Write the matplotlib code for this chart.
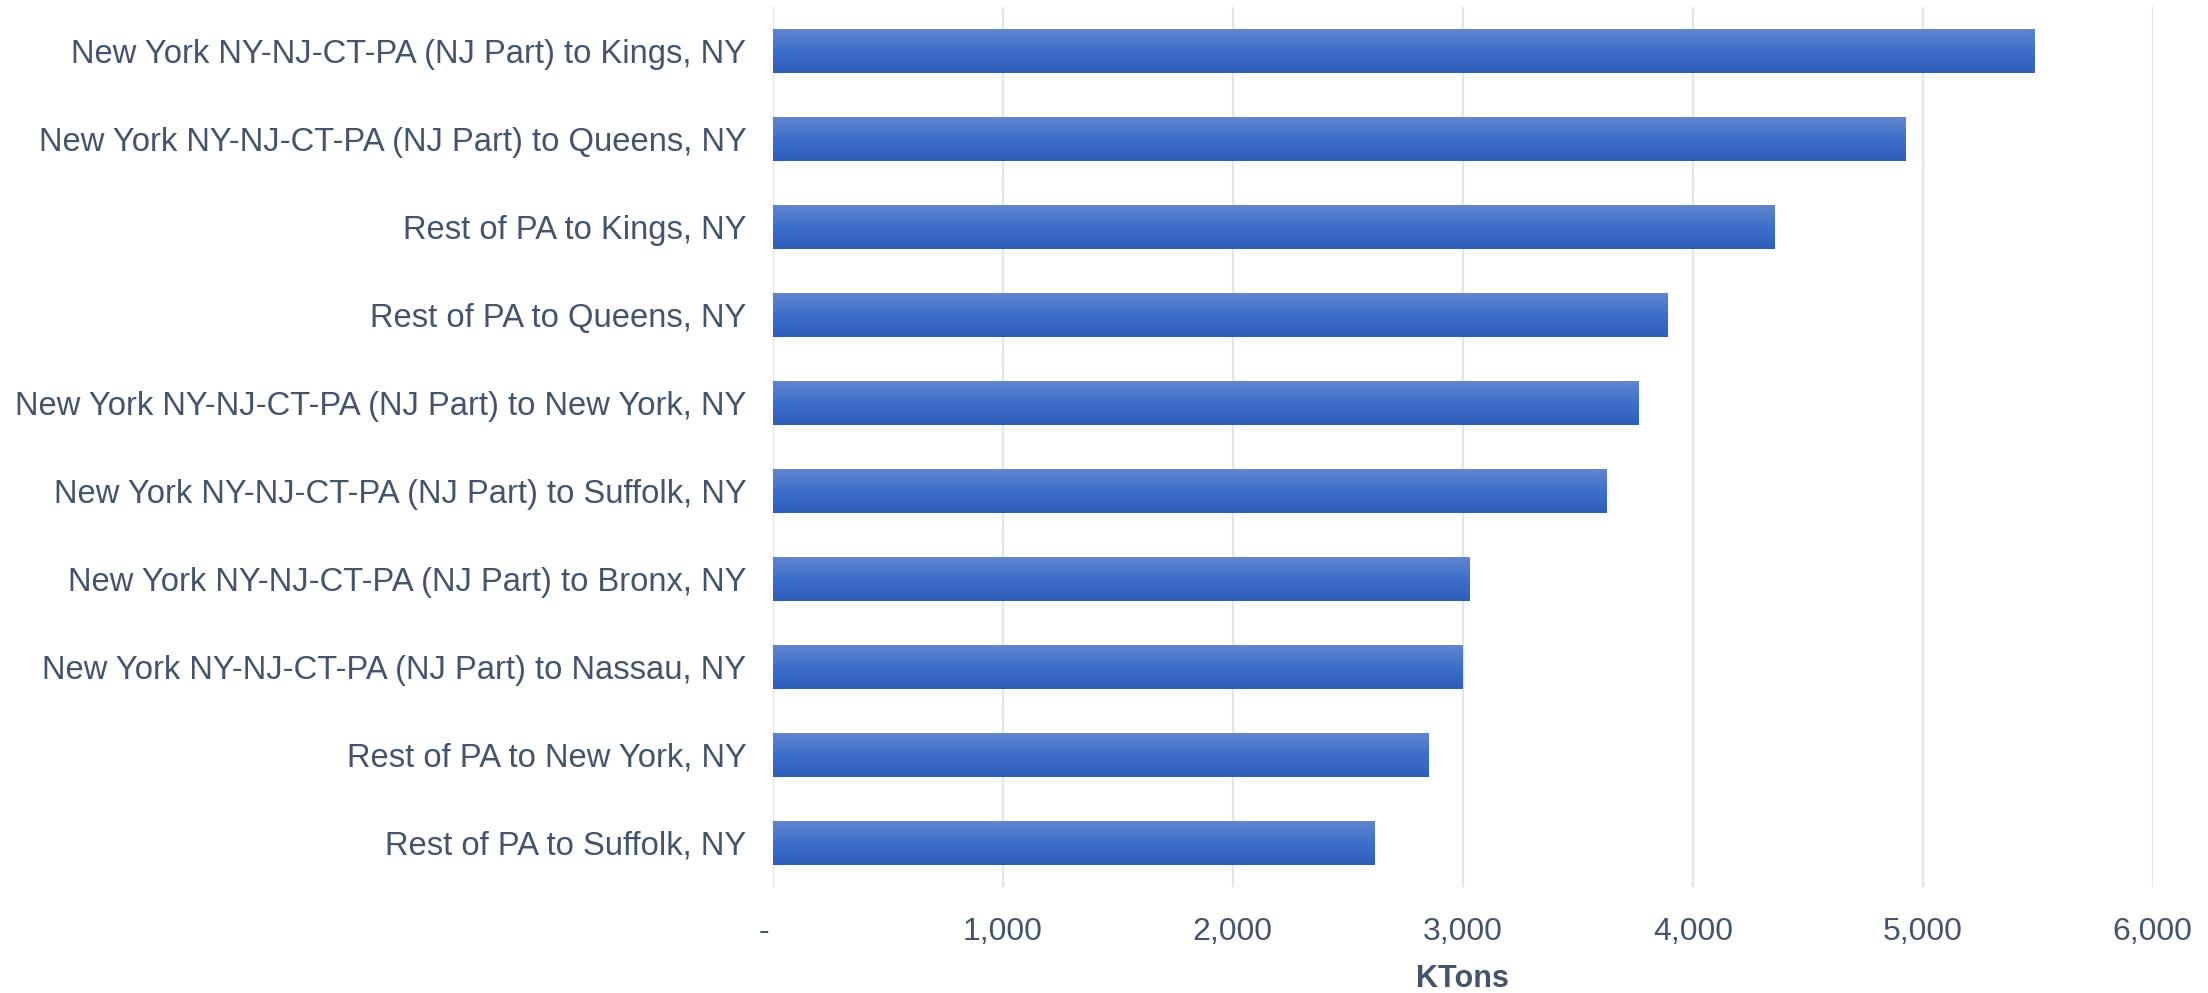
import numpy as np
import matplotlib
matplotlib.use("Agg")
import matplotlib.pyplot as plt
from matplotlib.colors import LinearSegmentedColormap
from matplotlib.ticker import FuncFormatter

# data, top to bottom as in the chart
routes = [
    "New York NY-NJ-CT-PA (NJ Part) to Kings, NY",
    "New York NY-NJ-CT-PA (NJ Part) to Queens, NY",
    "Rest of PA to Kings, NY",
    "Rest of PA to Queens, NY",
    "New York NY-NJ-CT-PA (NJ Part) to New York, NY",
    "New York NY-NJ-CT-PA (NJ Part) to Suffolk, NY",
    "New York NY-NJ-CT-PA (NJ Part) to Bronx, NY",
    "New York NY-NJ-CT-PA (NJ Part) to Nassau, NY",
    "Rest of PA to New York, NY",
    "Rest of PA to Suffolk, NY",
]
ktons = [5485, 4925, 4353, 3887, 3765, 3622, 3030, 2996, 2850, 2614]
x_ticks = [0, 1000, 2000, 3000, 4000, 5000, 6000]

text_color = "#44546A"
plt.rcParams["font.family"] = ["Liberation Sans", "DejaVu Sans"]

fig = plt.figure(figsize=(22.08, 9.93), dpi=100)
ax = fig.add_axes([0.350, 0.107, 0.625, 0.886])

y = np.arange(len(routes))
bars = ax.barh(y, ktons, height=0.5, color="#3F6FC9", zorder=2)

# vertical gradient inside each bar (light on top, darker at bottom)
grad = LinearSegmentedColormap.from_list("bar", ["#2D5EB7", "#3E70CB", "#6186CF"])
g = np.linspace(0, 1, 256).reshape(-1, 1)
for b in bars:
    x0, y0 = b.get_x(), b.get_y()
    w, h = b.get_width(), b.get_height()
    im = ax.imshow(g, cmap=grad, aspect="auto", origin="upper",
                   extent=[x0, x0 + w, y0, y0 + h], zorder=3)
    im.set_clip_path(b)

ax.set_ylim(len(routes) - 0.5, -0.5)
ax.set_xlim(0, 6000)
ax.set_yticks(y)
ax.set_yticklabels(routes)
ax.set_xticks(x_ticks)
# accounting style: zero shown as a dash, sitting a bit left of the axis
ax.xaxis.set_major_formatter(FuncFormatter(lambda v, p: "-  " if v == 0 else f"{v:,.0f}"))

ax.tick_params(axis="y", length=0, pad=19, labelsize=23.6, labelcolor=text_color)
ax.tick_params(axis="x", length=0, pad=22, labelsize=23, labelcolor=text_color)
ax.set_xlabel("KTons", fontsize=22, fontweight="bold", color=text_color, labelpad=12)

ax.grid(axis="x", color="#E1E4E9", linewidth=1.6, zorder=0)
ax.set_axisbelow(True)
for s in ax.spines.values():
    s.set_visible(False)

fig.savefig("out.png", dpi=100)
